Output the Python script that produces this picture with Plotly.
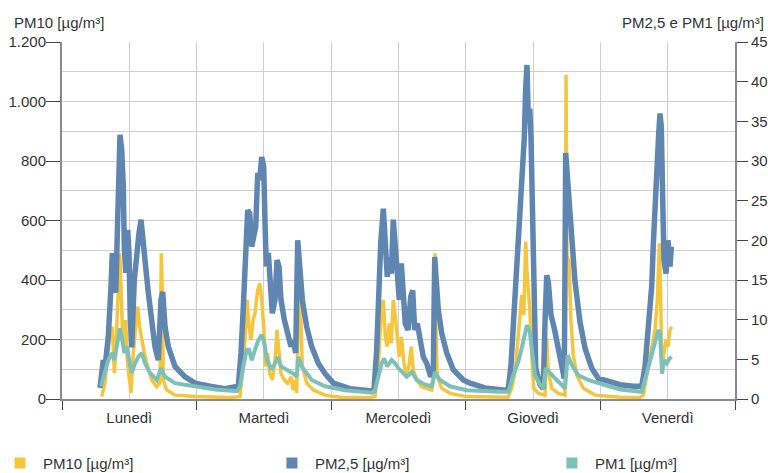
import plotly.graph_objects as go

days = ["Lunedì", "Martedì", "Mercoledì", "Giovedì", "Venerdì"]
day_centers = [12, 36, 60, 84, 108]

# hours since Monday 00:00
t_pm10 = [7.08, 7.67, 8.15, 8.56, 8.97, 9.33, 9.58, 9.93, 10.29, 10.52, 10.75, 11.11, 11.36, 11.64, 11.95, 12.30, 12.71, 13.14, 13.50, 13.85, 14.21, 14.68, 15.28, 15.99, 16.89, 17.47, 17.71, 17.88, 18.06, 18.67, 20.15, 23.72, 29.96, 31.56,
          31.74, 32.15, 32.63, 32.99, 33.34, 33.70, 34.06, 34.41, 34.90, 35.25, 35.61, 35.97, 36.32, 36.68, 37.03, 37.50, 37.98, 38.34, 38.69, 39.05, 39.64, 40.24, 40.83, 41.19, 41.55, 41.85, 42.13, 42.31, 42.49, 42.85, 43.63, 44.81, 46.90, 49.57, 54.92,
          55.81, 56.40, 56.83, 57.29, 57.65, 58.00, 58.36, 58.72, 59.07, 59.43, 59.79, 60.14, 60.50, 60.98, 61.46, 61.93, 62.28, 62.64, 63.25, 64.14, 65.03, 65.92, 66.33, 66.51, 66.69, 66.92, 67.70, 69.18, 72.16, 78.10,
          79.53, 80.19, 80.77, 81.26, 81.61, 81.97, 82.33, 82.68, 82.91, 83.15, 83.40, 83.75, 84.11, 84.93, 86.12, 86.43, 86.71, 87.32, 88.50, 89.69, 89.87, 90.05, 90.40, 90.76, 91.17, 91.77, 92.95, 95.04, 99.50, 103.06,
          103.65, 104.54, 105.15, 105.74, 106.15, 106.51, 106.75, 106.99, 107.34, 107.70, 108.05, 108.41, 108.71]
pm10 = [8, 54, 154, 222, 243, 87, 154, 310, 490, 377, 243, 176, 265, 131, 87, 20, 154, 243, 310, 243, 198, 154, 109, 64, 41, 54, 490, 356, 64, 30, 13, 8, 5, 6,
        8, 86, 198, 333, 243, 198, 265, 288, 366, 389, 333, 243, 109, 154, 86, 64, 131, 232, 154, 86, 64, 53, 75, 30, 64, 20, 277, 344, 333, 109, 53, 30, 13, 6, 5,
        8, 120, 254, 333, 209, 176, 254, 187, 333, 277, 221, 142, 209, 120, 75, 120, 176, 98, 64, 41, 36, 30, 75, 490, 232, 75, 36, 19, 8, 5,
        6, 36, 92, 193, 271, 350, 282, 529, 428, 372, 305, 148, 36, 19, 13, 204, 92, 36, 19, 13, 1089, 484, 461, 260, 148, 81, 36, 13, 6, 5,
        13, 109, 176, 232, 333, 523, 333, 86, 154, 198, 176, 232, 243]

t_pm25 = [6.78, 7.36, 7.67, 8.26, 8.74, 8.97, 9.33, 9.58, 9.93, 10.16, 10.34, 10.65, 10.93, 11.11, 11.36, 11.71, 11.95, 12.18, 12.43, 12.89, 13.32, 13.73, 14.09, 14.50, 14.80, 15.39, 15.99, 16.58, 17.17, 17.65, 17.96, 18.37, 18.95, 20.15, 21.93, 23.72, 26.39, 29.06, 31.44,
          31.92, 32.33, 32.76, 33.11, 33.47, 33.83, 34.18, 34.54, 34.90, 35.25, 35.61, 35.97, 36.20, 36.43, 36.79, 37.14, 37.50, 37.98, 38.34, 38.69, 39.05, 39.64, 40.24, 40.83, 41.24, 41.67, 42.03, 42.38, 42.85, 43.63, 44.52, 45.70, 46.90, 48.38, 51.35, 55.28,
          55.63, 56.11, 56.47, 56.83, 57.29, 57.65, 58.00, 58.36, 58.72, 59.07, 59.43, 59.79, 60.14, 60.50, 60.86, 61.21, 61.70, 62.18, 62.53, 62.89, 63.35, 63.84, 64.42, 65.03, 65.74, 66.21, 66.46, 66.69, 67.10, 67.70, 68.60, 69.77, 71.56, 72.75, 75.43, 78.99,
          79.58, 80.06, 80.47, 80.90, 81.36, 81.72, 82.08, 82.43, 82.68, 82.91, 83.15, 83.40, 83.63, 83.86, 84.11, 84.47, 85.23, 85.82, 86.12, 86.43, 86.71, 87.19, 87.78, 88.50, 89.10, 89.56, 89.81, 90.17, 90.53, 90.88, 91.47, 92.36, 93.26, 94.45, 95.63,
          97.71, 99.50, 101.87, 103.37, 103.96, 104.54, 105.15, 105.44, 105.74, 106.04, 106.40, 106.63, 106.86, 107.11, 107.34, 107.70, 108.05, 108.41, 108.65]
pm25 = [1.4, 4.9, 4.0, 7.9, 14.2, 18.4, 15.0, 13.4, 22.6, 30.1, 33.3, 31.4, 26.8, 19.2, 15.9, 21.3, 18.4, 10.0, 6.5, 15.0, 19.2, 20.9, 22.6, 18.4, 17.5, 13.4, 10.4, 6.6, 4.9, 12.5, 13.5, 9.1, 6.6, 4.1, 2.8, 2.0, 1.6, 1.3, 1.6,
        5.8, 11.6, 18.8, 23.8, 23.4, 19.2, 20.5, 21.7, 28.5, 27.6, 30.5, 29.3, 22.2, 16.7, 18.4, 13.7, 10.8, 12.5, 17.5, 16.7, 12.5, 10.0, 8.3, 6.6, 7.4, 5.8, 20.0, 17.5, 12.5, 9.1, 6.6, 4.5, 3.2, 2.0, 1.3, 1.0,
        1.1, 6.2, 13.7, 19.6, 24.0, 20.0, 15.4, 17.9, 15.8, 22.6, 19.6, 15.4, 12.5, 17.1, 12.5, 9.5, 8.7, 12.9, 13.7, 8.7, 9.5, 7.0, 5.3, 4.5, 2.8, 3.7, 17.9, 15.4, 11.2, 8.3, 5.8, 3.7, 2.4, 2.0, 1.4, 1.1,
        1.3, 4.3, 8.9, 14.0, 19.4, 22.4, 29.1, 32.9, 39.2, 42.1, 35.0, 36.6, 32.9, 22.4, 9.7, 3.9, 1.8, 1.3, 9.7, 15.6, 14.8, 10.6, 8.9, 6.4, 4.3, 2.6, 31.0, 27.4, 25.7, 19.8, 14.8, 9.7, 6.4, 3.9, 2.6,
        2.2, 1.8, 1.6, 1.6, 4.1, 8.3, 14.2, 19.6, 25.1, 29.3, 33.5, 36.0, 34.3, 25.1, 17.5, 15.8, 20.0, 16.7, 19.2]

t_pm1 = [6.95, 7.54, 8.26, 8.86, 9.33, 9.75, 10.34, 10.75, 11.11, 11.54, 11.95, 12.43, 13.02, 13.60, 14.21, 14.80, 15.69, 16.89, 17.65, 18.37, 20.15, 23.72, 27.28, 31.20,
         31.74, 32.33, 32.93, 33.34, 33.83, 34.41, 35.00, 35.61, 36.07, 36.55, 37.39, 37.98, 38.46, 39.05, 40.07, 41.24, 41.85, 42.13, 42.74, 44.52, 46.90, 50.46, 55.28,
         55.81, 56.40, 57.01, 57.42, 58.00, 58.79, 59.38, 59.97, 60.57, 61.46, 62.36, 63.25, 64.73, 65.92, 66.51, 67.40, 69.18, 72.16, 78.10,
         79.58, 80.47, 81.36, 81.97, 82.56, 82.91, 83.40, 83.86, 84.34, 85.23, 85.82, 86.25, 86.84, 87.91, 89.10, 89.69, 90.17, 90.88, 92.06, 93.84, 95.63,
         99.50, 103.37, 104.26, 105.15, 105.74, 106.33, 106.63, 106.99, 107.34, 107.82, 108.31, 108.71]
pm1 = [1.6, 3.3, 4.9, 5.8, 4.9, 6.6, 8.9, 7.4, 5.8, 6.6, 4.9, 3.3, 4.5, 5.3, 5.8, 4.5, 3.3, 2.4, 3.9, 2.8, 2.0, 1.55, 1.2, 1.0,
       1.6, 4.1, 6.2, 6.2, 4.9, 6.2, 7.4, 8.1, 7.0, 4.9, 3.7, 4.5, 5.3, 4.1, 3.7, 3.2, 2.8, 5.3, 4.1, 2.4, 1.6, 1.1, 0.8,
       1.1, 2.8, 4.5, 5.1, 4.1, 4.9, 4.5, 3.9, 3.4, 2.8, 3.4, 2.4, 1.8, 1.6, 3.4, 2.4, 1.6, 1.1, 0.9,
       0.9, 3.0, 4.7, 6.4, 8.5, 9.3, 8.5, 5.5, 3.0, 1.8, 1.3, 3.9, 3.4, 2.6, 1.8, 1.3, 5.5, 4.3, 3.0, 2.4, 2.0,
       1.2, 0.9, 3.2, 5.8, 7.4, 8.7, 8.3, 3.2, 4.9, 4.5, 5.1, 5.3]

names = ["PM10 [µg/m³]", "PM2,5 [µg/m³]", "PM1 [µg/m³]"]
YEL, BLU, TEA = "#F4C63D", "#5F85B1", "#7DC0B7"
GRID = "#CFCFCF"
TXT = "#333333"
font = dict(family="Liberation Sans, Arial, sans-serif", size=15, color=TXT)

fig = go.Figure()
fig.add_trace(go.Scatter(x=t_pm10, y=pm10, mode="lines", yaxis="y",
                         line=dict(color=YEL, width=3.5), showlegend=False))
fig.add_trace(go.Scatter(x=t_pm25, y=pm25, mode="lines", yaxis="y2",
                         line=dict(color=BLU, width=5.5), showlegend=False))
fig.add_trace(go.Scatter(x=t_pm1, y=pm1, mode="lines", yaxis="y2",
                         line=dict(color=TEA, width=4), showlegend=False))
legend_ids = ["legend", "legend2", "legend3"]
for nm, c, lg in zip(names, [YEL, BLU, TEA], legend_ids):
    fig.add_trace(go.Scatter(x=[None], y=[None], mode="markers", name=nm, legend=lg,
                             marker=dict(symbol="square", size=11, color=c)))

leg_common = dict(orientation="h", xanchor="left", y=-0.18, yanchor="middle",
                  font=font, bgcolor="rgba(0,0,0,0)", borderwidth=0, itemwidth=36)

fig.update_layout(
    width=768, height=473,
    margin=dict(l=62, r=33, t=42, b=74, autoexpand=False),
    paper_bgcolor="white", plot_bgcolor="white",
    separators=",.",
    font=font,
    xaxis=dict(range=[0, 120], tickmode="array", tickvals=day_centers, ticktext=days,
               ticks="", showgrid=True, gridcolor=GRID, gridwidth=1,
               showline=True, linecolor="#8A8A8A", linewidth=2, zeroline=False,
               ticklabelstandoff=4,
               minor=dict(tick0=0, dtick=24, ticks="outside", ticklen=9,
                          tickcolor="#444", tickwidth=1, showgrid=True, gridcolor=GRID)),
    yaxis=dict(range=[0, 1200], dtick=200, tickformat=",d", ticks="outside", ticklen=14,
               tickcolor="#444", showline=True, linecolor="#8A8A8A", linewidth=2,
               showgrid=True, gridcolor=GRID, zeroline=False, ticklabelstandoff=-3,
               minor=dict(dtick=100, showgrid=True, gridcolor=GRID)),
    yaxis2=dict(range=[0, 45], dtick=5, overlaying="y", side="right", ticks="outside",
                ticklen=11, tickcolor="#444", showline=True, linecolor="#8A8A8A",
                linewidth=2, showgrid=False, zeroline=False, ticklabelstandoff=0),
    legend=dict(x=-0.0966, **leg_common),
    legend2=dict(x=0.3075, **leg_common),
    legend3=dict(x=0.7235, **leg_common),
    annotations=[
        dict(text="PM10 [µg/m³]", xref="paper", yref="paper", x=-0.075, y=1.056,
             xanchor="left", yanchor="middle", showarrow=False, font=font),
        dict(text="PM2,5 e PM1 [µg/m³]", xref="paper", yref="paper", x=1.046, y=1.056,
             xanchor="right", yanchor="middle", showarrow=False, font=font),
    ],
)

fig.write_html("out.html")
